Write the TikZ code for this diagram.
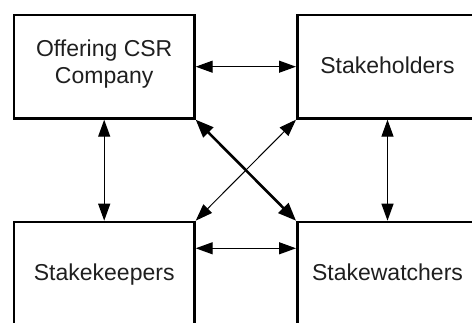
\documentclass[tikz,border=0pt]{standalone}
\usepackage{fontspec}
\setmainfont{Liberation Sans}
\usetikzlibrary{arrows.meta}
\tikzset{
  box/.style={draw=black, line width=2.7pt, minimum width=180.3pt, minimum height=103.3pt,
    inner sep=0pt, font=\fontsize{23}{26.5}\selectfont, text=black!88, align=center},
  oneline/.style={text height=16pt, text depth=3pt},
  link/.style={line width=1.2pt, {Triangle[length=17pt,width=12pt]}-{Triangle[length=17pt,width=12pt]}},
  thicklink/.style={line width=2.6pt, {Triangle[length=18pt,width=14pt]}-{Triangle[length=18pt,width=14pt]}},
  thinlink/.style={line width=1pt, {Triangle[length=17pt,width=12pt]}-{Triangle[length=17pt,width=12pt]}}
}
\begin{document}
\begin{tikzpicture}[x=1pt,y=1pt]
\useasboundingbox (0,0) rectangle (472,323);
\clip (0,0) rectangle (472,323);
\fill[white] (0,0) rectangle (472,323);
\node[box] (tl) at (104.2,256.3) {Offering CSR\\Company\rule[-10pt]{0pt}{10pt}};
\node[box,oneline] (tr) at (387.5,256.3) {Stakeholders};
\node[box,oneline] (bl) at (104.2,49.3) {Stakekeepers};
\node[box,oneline] (br) at (387.5,49.3) {Stakewatchers};
\draw[link] (tl.east) -- (tr.west);
\draw[link] ([yshift=25.4pt]bl.east) -- ([yshift=25.4pt]br.west);
\draw[link] (tl.south) -- (bl.north);
\draw[link] (tr.south) -- (br.north);
\draw[thicklink] (tl.south east) -- (br.north west);
\draw[thinlink] (bl.north east) -- (tr.south west);
\end{tikzpicture}
\end{document}
